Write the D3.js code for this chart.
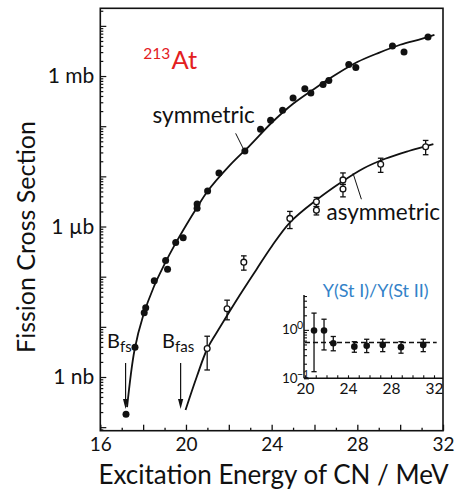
<!DOCTYPE html>
<html>
<head>
<meta charset="utf-8">
<script src="https://cdn.jsdelivr.net/npm/d3@7"></script>
<style>
  body { margin: 0; background: #fff; }
  svg { display: block; }
  text { font-family: Lato, "Open Sans", sans-serif; }
</style>
</head>
<body>
<svg id="chart" width="455" height="490"></svg>
<script>
// ---- Symmetric fission: measured cross sections (E* in MeV, sigma in mb)
const symE     = [17.20, 17.62, 18.05, 18.12, 18.52, 19.05, 19.14, 19.52, 19.87, 20.52, 20.52,
                  21.01, 21.54, 22.75, 23.48, 23.95, 24.51, 25.00, 25.55, 25.83, 26.40, 26.67,
                  27.60, 27.93, 29.64, 30.18, 31.30];
const symSigma = [1.8e-7, 3.9e-6, 1.9e-5, 2.4e-5, 8.3e-5, 2.1e-4, 1.4e-4, 4.8e-4, 6.0e-4, 2.8e-3, 2.3e-3,
                  5.1e-3, 1.17e-2, 3.2e-2, 8.7e-2, 0.132, 0.209, 0.363, 0.56, 0.457, 0.676, 0.81,
                  1.70, 1.48, 3.98, 3.02, 6.03];

// Symmetric fit curve
const symFitE     = [17.25, 17.6, 18.0, 18.5, 19.0, 19.5, 20.0, 20.5, 21.0, 22.0, 23.0, 24.0,
                     25.0, 26.0, 27.0, 28.0, 29.0, 30.0, 31.0, 31.6];
const symFitSigma = [2.5e-7, 3.5e-6, 1.66e-5, 6.3e-5, 1.78e-4, 4.5e-4, 1.05e-3, 2.34e-3, 5.0e-3,
                     1.58e-2, 4.2e-2, 0.117, 0.28, 0.56, 1.07, 1.9, 2.9, 4.2, 5.5, 6.6];

// ---- Asymmetric fission: measured cross sections with error limits (mb)
const asymE     = [20.99, 21.92, 22.70, 24.85, 26.09, 26.09, 27.33, 27.33, 29.09, 31.19];
const asymSigma = [3.7e-6, 2.3e-5, 1.95e-4, 1.45e-3, 3.1e-3, 2.1e-3, 8.5e-3, 5.6e-3, 1.74e-2, 3.9e-2];
const asymLow   = [1.38e-6, 1.38e-5, 1.35e-4, 9.1e-4, 2.5e-3, 1.7e-3, 6.9e-3, 3.9e-3, 1.2e-2, 2.7e-2];
const asymHigh  = [6.5e-6, 3.4e-5, 2.6e-4, 2.0e-3, 3.8e-3, 2.5e-3, 1.17e-2, 6.9e-3, 2.3e-2, 5.2e-2];

// Asymmetric fit curve
const asymFitE     = [19.98, 20.5, 21.0, 21.6, 22.5, 23.3, 24.0, 24.85, 26.1, 27.3, 28.3, 29.3, 30.4, 31.55];
const asymFitSigma = [2.2e-7, 1.0e-6, 3.7e-6, 1.0e-5, 4.2e-5, 1.41e-4, 4.0e-4, 1.2e-3, 3.4e-3,
                      7.9e-3, 1.45e-2, 2.24e-2, 3.2e-2, 4.4e-2];

// ---- Fission barriers (MeV)
const barrierE     = [17.18, 19.75];
const barrierNames = [["B", "fs"], ["B", "fas"]];

// ---- Inset: yield ratio Y(St I)/Y(St II)
const ratioE    = [20.84, 21.77, 22.63, 24.59, 25.74, 27.23, 28.93, 31.0];
const ratio     = [0.97, 0.97, 0.53, 0.45, 0.47, 0.49, 0.44, 0.49];
const ratioLow  = [0.137, 0.385, 0.37, 0.345, 0.34, 0.355, 0.33, 0.355];
const ratioHigh = [2.22, 1.66, 0.73, 0.57, 0.64, 0.64, 0.57, 0.64];
const ratioMean = 0.55;

// ---- Axis labels
const xTickLabels = [16, 20, 24, 28, 32];
const yTickValues = [1e-6, 1e-3, 1];
const yTickLabels = ["1 nb", "1 \u00b5b", "1 mb"];
const insetXTickLabels = [20, 24, 28, 32];
const insetYTickValues = [1, 0.1];
const insetYTickExponents = ["0", "\u22121"];

const INK = "#111";
const svg = d3.select("#chart");

// ---------- main frame ----------
const L = 100.3, R = 443, T = 8.3, B = 430.7;
const x = d3.scaleLinear().domain([16, 32]).range([L, R]);
const y = d3.scaleLog().domain([8.5e-8, 22.4]).range([B, T]);

svg.append("rect")
  .attr("x", L).attr("y", T).attr("width", R - L).attr("height", B - T)
  .attr("fill", "none").attr("stroke", INK).attr("stroke-width", 1.6);

// x axis: ticks every MeV, pointing inward
const xAxis = svg.append("g").attr("transform", `translate(0,${B})`)
  .call(d3.axisBottom(x).tickValues(d3.range(16, 33, 1)).tickSizeOuter(0)
    .tickSizeInner(-4).tickPadding(7)
    .tickFormat(d => xTickLabels.includes(d) ? d : ""));
xAxis.select(".domain").remove();
xAxis.selectAll(".tick line")
  .attr("y2", d => d % 2 === 0 ? -6 : -3)
  .attr("stroke", INK).attr("stroke-width", 1.3);
xAxis.selectAll(".tick text").style("font-size", "19px").style("fill", INK);

// y axis: log ticks pointing inward
const yTicks = [];
for (let e = -8; e <= 1; e++) {
  for (let m = 1; m <= 9; m++) {
    const v = m * Math.pow(10, e);
    if (v >= 8.5e-8 && v <= 22.4) yTicks.push(v);
  }
}
const yAxis = svg.append("g").attr("transform", `translate(${L},0)`)
  .call(d3.axisLeft(y).tickValues(yTicks).tickSizeOuter(0)
    .tickSizeInner(-3).tickPadding(6)
    .tickFormat(d => {
      const i = yTickValues.findIndex(v => Math.abs(Math.log10(v) - Math.log10(d)) < 1e-6);
      return i >= 0 ? yTickLabels[i] : "";
    }));
yAxis.select(".domain").remove();
yAxis.selectAll(".tick line")
  .attr("x2", d => Math.abs(Math.log10(d) - Math.round(Math.log10(d))) < 1e-6 ? 6 : 3)
  .attr("stroke", INK).attr("stroke-width", 1.2);
yAxis.selectAll(".tick text").style("font-size", "21px").style("fill", INK);

// axis titles
svg.append("text")
  .attr("x", 273.5).attr("y", 484)
  .attr("text-anchor", "middle").style("font-size", "26px").style("fill", INK)
  .text("Excitation Energy of CN / MeV");
svg.append("text")
  .attr("transform", `translate(35,237) rotate(-90)`)
  .attr("text-anchor", "middle").style("font-size", "25px").style("fill", INK)
  .text("Fission Cross Section");

// ---------- fit curves ----------
const line = d3.line().x(d => x(d[0])).y(d => y(d[1])).curve(d3.curveCatmullRom.alpha(0.5));
svg.append("path").datum(d3.zip(symFitE, symFitSigma))
  .attr("d", line).attr("fill", "none").attr("stroke", INK).attr("stroke-width", 1.8);
svg.append("path").datum(d3.zip(asymFitE, asymFitSigma))
  .attr("d", line).attr("fill", "none").attr("stroke", INK).attr("stroke-width", 1.8);

// ---------- symmetric points ----------
svg.append("g").selectAll("circle").data(d3.zip(symE, symSigma)).join("circle")
  .attr("cx", d => x(d[0])).attr("cy", d => y(d[1])).attr("r", 3.5).attr("fill", INK);

// ---------- asymmetric points with error bars ----------
const asym = asymE.map((e, i) => ({ e, v: asymSigma[i], lo: asymLow[i], hi: asymHigh[i] }));
const ag = svg.append("g").attr("stroke", INK).attr("stroke-width", 1.3);
ag.selectAll(".eb").data(asym).join("line").attr("class", "eb")
  .attr("x1", d => x(d.e)).attr("x2", d => x(d.e))
  .attr("y1", d => y(d.lo)).attr("y2", d => y(d.hi));
ag.selectAll(".capT").data(asym).join("line").attr("class", "capT")
  .attr("x1", d => x(d.e) - 2.8).attr("x2", d => x(d.e) + 2.8)
  .attr("y1", d => y(d.hi)).attr("y2", d => y(d.hi));
ag.selectAll(".capB").data(asym).join("line").attr("class", "capB")
  .attr("x1", d => x(d.e) - 2.8).attr("x2", d => x(d.e) + 2.8)
  .attr("y1", d => y(d.lo)).attr("y2", d => y(d.lo));
ag.selectAll("circle").data(asym).join("circle")
  .attr("cx", d => x(d.e)).attr("cy", d => y(d.v)).attr("r", 2.9)
  .attr("fill", "#fff");

// ---------- barrier arrows ----------
barrierE.forEach((e, i) => {
  const xa = x(e), y0 = y(1.9e-6), y1 = y(2.3e-7);
  svg.append("line").attr("x1", xa).attr("x2", xa).attr("y1", y0).attr("y2", y1 - 8)
    .attr("stroke", INK).attr("stroke-width", 1.2);
  svg.append("path")
    .attr("d", `M${xa - 2.6},${y1 - 10} L${xa + 2.6},${y1 - 10} L${xa},${y1} Z`)
    .attr("fill", INK);
  const t = svg.append("text").attr("x", x(e) - 18.5).attr("y", y(3.7e-6))
    .style("font-size", "20px").style("fill", INK);
  t.append("tspan").text(barrierNames[i][0]);
  t.append("tspan").attr("dy", 4).style("font-size", "15px").text(barrierNames[i][1]);
});

// ---------- annotations ----------
const RED = "#e3201f";
svg.append("text").attr("x", 143.3).attr("y", 58.5).style("font-size", "15.5px")
  .style("fill", RED).text("213");
svg.append("text").attr("x", 171.5).attr("y", 69.3).style("font-size", "25.5px")
  .style("fill", RED).text("At");

svg.append("text").attr("x", 152.5).attr("y", 123.3).style("font-size", "22.5px")
  .style("fill", INK).text("symmetric");
svg.append("line")
  .attr("x1", x(22.32)).attr("y1", y(0.072)).attr("x2", x(22.67)).attr("y2", y(0.036))
  .attr("stroke", INK).attr("stroke-width", 1);

svg.append("text").attr("x", 326.5).attr("y", 220).style("font-size", "22.5px")
  .style("fill", INK).text("asymmetric");
svg.append("line")
  .attr("x1", x(27.8)).attr("y1", y(0.0115)).attr("x2", x(28.19)).attr("y2", y(0.0035))
  .attr("stroke", INK).attr("stroke-width", 1);

// ---------- inset: yield ratio ----------
const xi = d3.scaleLinear().domain([20, 32]).range([305, 434]);
const yi = d3.scaleLog().domain([0.1, 5.25]).range([378.3, 295]);
const inset = svg.append("g");

// axis lines
inset.append("line").attr("x1", xi(20) - 1).attr("x2", R).attr("y1", yi(0.1)).attr("y2", yi(0.1))
  .attr("stroke", INK).attr("stroke-width", 1.5);
inset.append("line").attr("x1", xi(20) - 1).attr("x2", xi(20) - 1).attr("y1", yi(0.1)).attr("y2", yi(5.25))
  .attr("stroke", INK).attr("stroke-width", 1.5);

const xiAxis = inset.append("g").attr("transform", `translate(0,${yi(0.1)})`)
  .call(d3.axisBottom(xi).tickValues(d3.range(20, 33, 1)).tickSizeOuter(0)
    .tickSizeInner(-3).tickPadding(5)
    .tickFormat(d => insetXTickLabels.includes(d) ? d : ""));
xiAxis.select(".domain").remove();
xiAxis.selectAll(".tick line").attr("stroke", INK).attr("stroke-width", 1.1);
xiAxis.selectAll(".tick text").style("font-size", "15.5px").style("fill", INK);

const yiTicks = [0.1, 0.2, 0.3, 0.4, 0.5, 0.6, 0.7, 0.8, 0.9, 1, 2, 3, 4, 5];
const yiAxis = inset.append("g").attr("transform", `translate(${xi(20) - 1},0)`)
  .call(d3.axisLeft(yi).tickValues(yiTicks).tickSizeOuter(0).tickSizeInner(-3).tickFormat(""));
yiAxis.select(".domain").remove();
yiAxis.selectAll(".tick line")
  .attr("x2", d => (d === 1 || d === 0.1) ? 5 : 3)
  .attr("stroke", INK).attr("stroke-width", 1.1);

// decade labels 10^0, 10^-1 (base with raised exponent)
insetYTickValues.forEach((v, i) => {
  const base = yi(v) + 4.5;
  inset.append("text").attr("x", 282).attr("y", base)
    .style("font-size", "13.5px").style("fill", INK).text("10");
  inset.append("text").attr("x", 297).attr("y", base - 5)
    .style("font-size", "10.5px").style("fill", INK).text(insetYTickExponents[i]);
});

// mean ratio
inset.append("line").attr("x1", xi(20)).attr("x2", xi(32.25))
  .attr("y1", yi(ratioMean)).attr("y2", yi(ratioMean))
  .attr("stroke", INK).attr("stroke-width", 1.5).attr("stroke-dasharray", "5,3");

const rat = ratioE.map((e, i) => ({ e, v: ratio[i], lo: ratioLow[i], hi: ratioHigh[i] }));
const rg = inset.append("g").attr("stroke", INK).attr("stroke-width", 1.3);
rg.selectAll(".eb").data(rat).join("line").attr("class", "eb")
  .attr("x1", d => xi(d.e)).attr("x2", d => xi(d.e))
  .attr("y1", d => yi(d.lo)).attr("y2", d => yi(d.hi));
rg.selectAll(".capT").data(rat).join("line").attr("class", "capT")
  .attr("x1", d => xi(d.e) - 2.6).attr("x2", d => xi(d.e) + 2.6)
  .attr("y1", d => yi(d.hi)).attr("y2", d => yi(d.hi));
rg.selectAll(".capB").data(rat).join("line").attr("class", "capB")
  .attr("x1", d => xi(d.e) - 2.6).attr("x2", d => xi(d.e) + 2.6)
  .attr("y1", d => yi(d.lo)).attr("y2", d => yi(d.lo));
inset.append("g").selectAll("circle").data(rat).join("circle")
  .attr("cx", d => xi(d.e)).attr("cy", d => yi(d.v)).attr("r", 3.3).attr("fill", INK);

inset.append("text").attr("x", 322.7).attr("y", 296.7).style("font-size", "18px")
  .style("fill", "#3382c8").text("Y(St I)/Y(St II)");
</script>
</body>
</html>
